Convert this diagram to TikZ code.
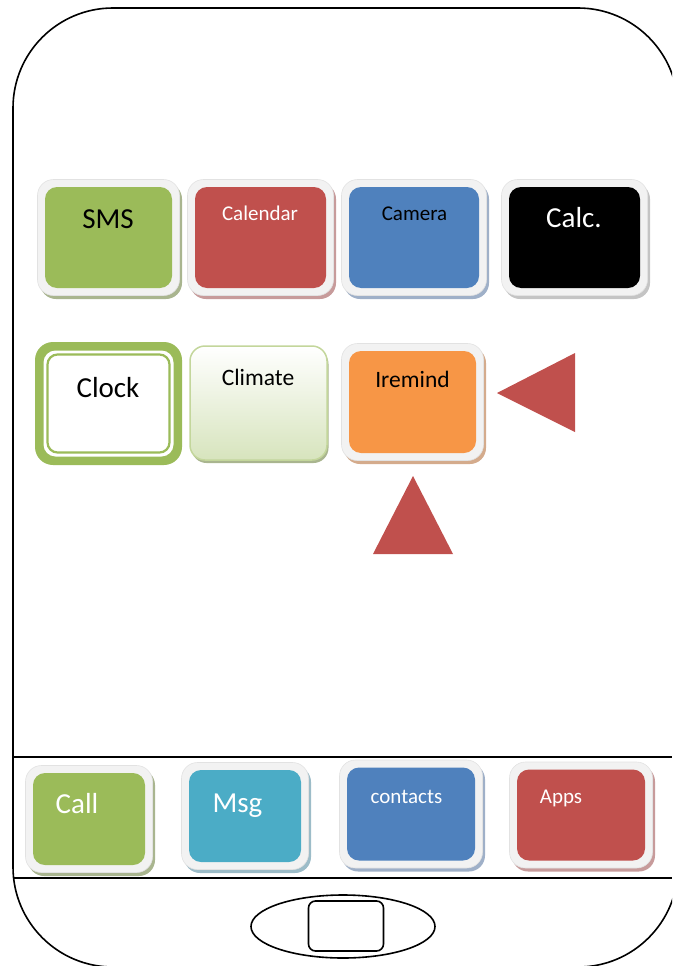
\documentclass[tikz,border=0pt]{standalone}
\usepackage{fontspec}
\setmainfont{Carlito}
\usetikzlibrary{shapes.geometric}

\definecolor{appgreen}{HTML}{9BBB59}
\definecolor{appred}{HTML}{C0504D}
\definecolor{appblue}{HTML}{4F81BD}
\definecolor{appteal}{HTML}{4BACC6}
\definecolor{apporange}{HTML}{F79646}
\definecolor{framegray}{HTML}{F2F2F2}
\definecolor{frameedge}{HTML}{E2E2E2}
\definecolor{shgreen}{HTML}{A9B58F}
\definecolor{shred}{HTML}{C79B9B}
\definecolor{shblue}{HTML}{9FB0C8}
\definecolor{shgray}{HTML}{C4C4C4}
\definecolor{shteal}{HTML}{9CBCC8}
\definecolor{shorange}{HTML}{D4AB8C}
\definecolor{climfill}{HTML}{D7E4BD}
\definecolor{climedge}{HTML}{C3D69B}

\newcommand\bigtxt{\fontsize{29}{34}\selectfont}
\newcommand\midtxt{\fontsize{23.5}{28}\selectfont}
\newcommand\smalltxt{\fontsize{21}{25}\selectfont}

% #1 name, #2 centre x, #3 centre y, #4 inner width, #5 inner height,
% #6 face colour, #7 shadow colour
\newcommand\apptile[7]{%
  \node[tileshadow, fill=#7, minimum width=#4pt+15pt, minimum height=#5pt+15pt]
    (#1Sh) at (#2+2.5,#3+3.5) {};
  \node[tileframe, minimum width=#4pt+15pt, minimum height=#5pt+15pt]
    (#1Fr) at (#2,#3) {};
  \node[tileface, fill=#6, minimum width=#4pt, minimum height=#5pt]
    (#1Fc) at (#2,#3) {};
}

\begin{document}
\begin{tikzpicture}[x=1pt,y=-1pt,
  body/.style={draw=black, line width=1.6pt},
  tileshadow/.style={rectangle, rounded corners=16pt, inner sep=0pt, outer sep=0pt, draw=none},
  tileframe/.style={rectangle, rounded corners=16pt, inner sep=0pt, outer sep=0pt,
                    fill=framegray, draw=frameedge, line width=0.6pt},
  tileface/.style={rectangle, rounded corners=12pt, inner sep=0pt, outer sep=0pt, draw=none},
  lbl/.style={anchor=base, inner sep=0pt},
  marker/.style={fill=appred, draw=none}]

\begin{scope}
\clip (0,0) rectangle (672,966);

% phone body and the two dock separators
\draw[body, rounded corners=100pt] (13,8) rectangle (678,967);
\coordinate (dockTL) at (13,757);
\coordinate (dockTR) at (672,757);
\coordinate (dockBL) at (13,878);
\coordinate (dockBR) at (672,878);
\draw[body] (dockTL) -- (dockTR);
\draw[body] (dockBL) -- (dockBR);

% home button
\node[body, ellipse, minimum width=184pt, minimum height=63pt, inner sep=0pt]
  (homeRing) at (343,926.5) {};
\node[body, rectangle, rounded corners=7pt, minimum width=75pt, minimum height=50pt,
  inner sep=0pt] (homeKey) at (346,926) {};

% first row of apps
\apptile{sms}{108.5}{237.5}{127}{101}{appgreen}{shgreen}
\apptile{cal}{260.5}{237.5}{131}{101}{appred}{shred}
\apptile{cam}{414}{237.5}{130}{101}{appblue}{shblue}
\apptile{calc}{574.5}{237.5}{131}{101}{black}{shgray}
\node[lbl, font=\bigtxt] (smsT) at (108,228) {SMS};
\node[lbl, font=\smalltxt, text=white] (calT) at (260,220) {Calendar};
\node[lbl, font=\smalltxt, text=black] (camT) at (414.5,220) {Camera};
\node[lbl, font=\bigtxt, text=white] (calcT) at (574,227) {Calc.};

% second row: clock with double border
\node[rectangle, rounded corners=18pt, fill=appgreen, minimum width=147pt,
  minimum height=123pt, inner sep=0pt] (clockOut) at (108.5,403.5) {};
\node[rectangle, rounded corners=12pt, fill=white, minimum width=130pt,
  minimum height=106pt, inner sep=0pt] (clockIn) at (108.5,403.5) {};
\node[rectangle, rounded corners=10pt, draw=appgreen, line width=2.2pt,
  minimum width=122pt, minimum height=98pt, inner sep=0pt] (clockLine) at (108.5,403.5) {};
\node[lbl, font=\bigtxt] (clockT) at (108,397) {Clock};

% climate: light gradient tile
\node[rectangle, rounded corners=15pt, fill=shgreen, minimum width=137pt,
  minimum height=114pt, inner sep=0pt] (climSh) at (260,406) {};
\node[rectangle, rounded corners=15pt, top color=white, middle color=white!60!climfill,
  bottom color=climfill, draw=climedge, line width=1.5pt, minimum width=137pt,
  minimum height=114pt, inner sep=0pt] (climFc) at (258.5,403) {};
\node[lbl, font=\midtxt] (climT) at (258,385) {Climate};

% iremind
\apptile{rem}{412.5}{402}{127}{102}{apporange}{shorange}
\node[lbl, font=\midtxt] (remT) at (412.5,387) {Iremind};

% pointer triangles
\fill[marker] (497,393) -- (575,353) -- (575,432) -- cycle;
\fill[marker] (413,476) -- (453,554) -- (373,554) -- cycle;

% dock
\apptile{call}{89}{819}{112}{92}{appgreen}{shgreen}
\apptile{msg}{245}{816}{112}{92}{appteal}{shteal}
\apptile{con}{411}{814}{128}{93}{appblue}{shblue}
\apptile{apps}{581}{815}{128}{91}{appred}{shred}
\node[lbl, font=\bigtxt, text=white] (callT) at (77,813) {Call};
\node[lbl, font=\bigtxt, text=white] (msgT) at (237.5,812) {Msg};
\node[lbl, font=\smalltxt, text=white] (conT) at (406.5,803) {contacts};
\node[lbl, font=\smalltxt, text=white] (appsT) at (561,803) {Apps};
\end{scope}

% the page is exactly the screen area
\pgfresetboundingbox
\useasboundingbox (0,0) rectangle (672,966);
\end{tikzpicture}
\end{document}
